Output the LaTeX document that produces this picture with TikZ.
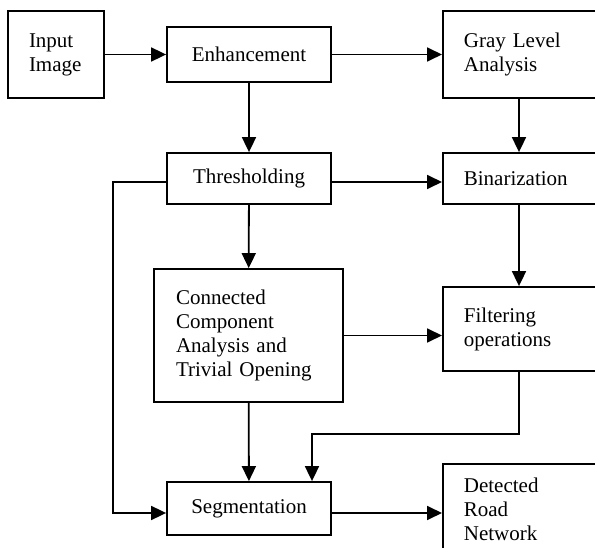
\documentclass[tikz,border=0pt]{standalone}
\usepackage{fontspec}
\setmainfont{Liberation Serif}
\usetikzlibrary{arrows.meta,calc}

\tikzset{
  blocco/.style={draw, line width=1.8pt, inner sep=0pt, font=\fontsize{21}{24}\selectfont},
  destra/.style={blocco, anchor=west, inner xsep=21pt, text width=200pt, align=left},
  freccia/.style={line width=1.8pt, ->},
}

\begin{document}
\begin{tikzpicture}[x=1pt, y=-1pt, >={Triangle[length=15pt,width=14pt]}]
        \useasboundingbox (0,0) rectangle (595,548);

        % Colonna sinistra
        \node[blocco, minimum width=96pt, minimum height=87pt, text width=54pt, align=left] (inp) at (56,54.5) {Input\\Image};
        \node[blocco, minimum width=164pt, minimum height=55pt] (enh) at (249,54.5) {Enhancement};
        \node[blocco, minimum width=164pt, minimum height=51pt] (thr) at (249,178.5) {Thresholding};
        \node[blocco, minimum width=189pt, minimum height=133pt, text width=145pt, align=left] (cca) at (248.5,335.5)
             {Connected\\Component\\Analysis and\\Trivial Opening};
        \node[blocco, minimum width=164pt, minimum height=53pt] (seg) at (249,508.5) {Segmentation};

        % Colonna destra
        \node[destra, minimum height=87pt] (gla) at (442,54.5) {Gray Level\\Analysis};
        \node[destra, minimum height=51pt] (bin) at (442,178.5) {Binarization};
        \node[destra, minimum height=84pt] (fil) at (442,329) {Filtering\\operations};
        \node[destra, anchor=north west, inner ysep=14pt] (drn) at (442,463) {Detected\\Road\\Network};

        % Righe e colonne delle frecce
        \coordinate (rc) at (519,0);
        \coordinate (r2) at (0,182);
        \coordinate (r5) at (0,513);
        \coordinate (k) at (312,434);

        % Frecce
        \draw[freccia] (inp) -- (enh);
        \draw[freccia] (enh) -- (gla.west |- enh);
        \draw[freccia] (enh) -- (thr);
        \draw[freccia] (gla.south -| rc) -- (bin.north -| rc);
        \draw[freccia] (thr.east |- r2) -- (bin.west |- r2);
        \draw[freccia] (thr) -- (cca);
        \draw[freccia] (bin.south -| rc) -- (fil.north -| rc);
        \draw[freccia] (cca.east) -- (cca.east -| fil.west);
        \draw[freccia] (cca) -- (seg);
        \draw[freccia] (thr.west |- r2) -- ++(-53,0) |- (seg.west |- r5);
        \draw[freccia] (fil.south -| rc) |- (k) -- (k |- seg.north);
        \draw[freccia] (seg.east |- r5) -- (drn.west |- r5);
    \end{tikzpicture}
\end{document}
